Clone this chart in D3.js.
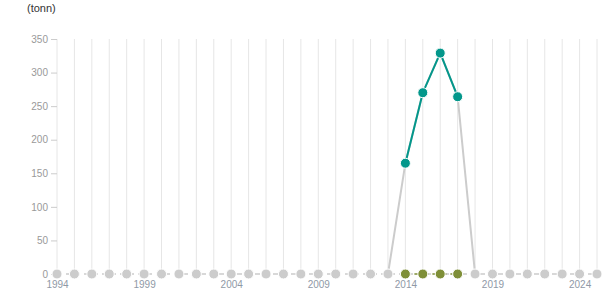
<!DOCTYPE html>
<html><head><meta charset="utf-8">
<script src="https://cdn.jsdelivr.net/npm/d3@7"></script>
<style>body{margin:0;background:#fff;font-family:"Liberation Sans",Arial,sans-serif;}</style>
</head><body><svg id="c" width="615" height="305"></svg>
<script>
const years = d3.range(1994, 2026);
const totalValues = [0,0,0,0,0,0,0,0,0,0,0,0,0,0,0,0,0,0,0,0,165,270,329,264,0,0,0,0,0,0,0,0];
const highlightYears = [2014,2015,2016,2017];
const highlightValues = [165,270,329,264];
const zeroYears = [2014,2015,2016,2017];
const zeroValues = [0,0,0,0];
const yTicks = [0,50,100,150,200,250,300,350];
const xTickYears = [1994,1999,2004,2009,2014,2019,2024];
const unitLabel = "(tonn)";

const svg = d3.select("#c");
const x = d3.scaleLinear().domain([1994, 2025]).range([57, 597]);
const y = d3.scaleLinear().domain([0, 350]).range([274, 39]);

svg.append("text").attr("x", 27).attr("y", 12).attr("font-size", 11).attr("fill", "#333").text(unitLabel);

// vertical gridlines
svg.append("g").selectAll("line").data(years).join("line")
  .attr("x1", d => x(d)).attr("x2", d => x(d))
  .attr("y1", y(350)).attr("y2", y(0))
  .attr("stroke", "#e6e6e6").attr("stroke-width", 1);

// y axis
const ya = svg.append("g").attr("transform", "translate(57,0)")
  .call(d3.axisLeft(y).tickValues(yTicks).tickSize(6).tickPadding(3));
ya.select(".domain").remove();
ya.selectAll("line").attr("stroke", "#ccc");
ya.selectAll("text").attr("fill", "#999").attr("font-size", 10).attr("font-family", "Liberation Sans, Arial");

// x axis
const xa = svg.append("g").attr("transform", `translate(0,${y(0)})`)
  .call(d3.axisBottom(x).tickValues(xTickYears).tickFormat(d3.format("d")).tickSize(0).tickPadding(7));
xa.select(".domain").remove();
xa.selectAll("text").attr("fill", "#8f99a6").attr("font-size", 10).attr("font-family", "Liberation Sans, Arial");

// solid grey total line (segments near nonzero values)
const totalPts = years.map((yr, i) => ({yr, v: totalValues[i], i}));
const near = p => p.v > 0 || (totalValues[p.i-1] > 0) || (totalValues[p.i+1] > 0);
svg.append("path").datum(totalPts)
  .attr("d", d3.line().defined(near).x(d => x(d.yr)).y(d => y(d.v)))
  .attr("fill", "none").attr("stroke", "#cccccc").attr("stroke-width", 2);

// dashed grey zero line
svg.append("path").datum(years)
  .attr("d", d3.line().x(d => x(d)).y(() => y(0)))
  .attr("fill", "none").attr("stroke", "#cccccc").attr("stroke-width", 1.5).attr("stroke-dasharray", "5,4");

// olive dashed zero segment
svg.append("path").datum(zeroYears.map((yr, i) => [yr, zeroValues[i]]))
  .attr("d", d3.line().x(d => x(d[0])).y(d => y(d[1])))
  .attr("fill", "none").attr("stroke", "#7f8f38").attr("stroke-width", 1.5).attr("stroke-dasharray", "5,4");

// grey markers at zero (excluding highlighted years)
svg.append("g").selectAll("circle").data(years.filter(yr => !zeroYears.includes(yr))).join("circle")
  .attr("cx", d => x(d)).attr("cy", y(0)).attr("r", 5)
  .attr("fill", "#cccccc").attr("stroke", "#fff").attr("stroke-width", 1);

// olive markers
svg.append("g").selectAll("circle").data(zeroYears.map((yr, i) => [yr, zeroValues[i]])).join("circle")
  .attr("cx", d => x(d[0])).attr("cy", d => y(d[1])).attr("r", 5)
  .attr("fill", "#7f8f38").attr("stroke", "#fff").attr("stroke-width", 1);

// teal line
const hl = highlightYears.map((yr, i) => [yr, highlightValues[i]]);
svg.append("path").datum(hl)
  .attr("d", d3.line().x(d => x(d[0])).y(d => y(d[1])))
  .attr("fill", "none").attr("stroke", "#03978b").attr("stroke-width", 2);
svg.append("g").selectAll("circle").data(hl).join("circle")
  .attr("cx", d => x(d[0])).attr("cy", d => y(d[1])).attr("r", 5)
  .attr("fill", "#03978b").attr("stroke", "#fff").attr("stroke-width", 1);
</script></body></html>
